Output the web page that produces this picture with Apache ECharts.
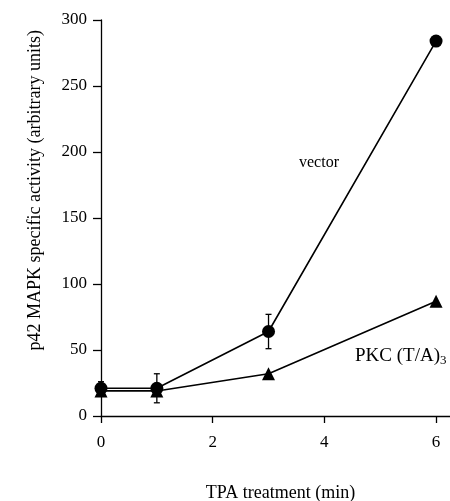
<!DOCTYPE html>
<html><head><meta charset="utf-8">
<script src="https://cdn.jsdelivr.net/npm/echarts@6/dist/echarts.min.js"></script>
<style>html,body{margin:0;padding:0;background:#fff}#c{width:450px;height:501px}</style>
</head><body><div id="c"></div>
<script>
var times = [0, 1, 3, 6];
var vectorVals = [21, 21, 64, 284];
var vectorErr = [5, 11, 13, 0];
var pkcVals = [19, 19, 32, 87];
var pkcErr = [0, 0, 0, 0];
var xTicks = [0, 2, 4, 6];

var FONT = '"Liberation Serif", "DejaVu Serif", serif';
function pairs(xs, ys){ return xs.map(function(x,i){ return [x, ys[i]]; }); }
function errData(xs, ys, es){
  var out = [];
  xs.forEach(function(x,i){ if (es[i] > 0) out.push([x, ys[i]-es[i], ys[i]+es[i]]); });
  return out;
}
function renderErr(params, api){
  var x = api.value(0);
  var lo = api.coord([x, api.value(1)]);
  var hi = api.coord([x, api.value(2)]);
  var w = 3;
  var st = {stroke:'#000', lineWidth:1.3};
  return {type:'group', children:[
    {type:'line', shape:{x1:lo[0],y1:lo[1],x2:hi[0],y2:hi[1]}, style:st},
    {type:'line', shape:{x1:lo[0]-w,y1:lo[1],x2:lo[0]+w,y2:lo[1]}, style:st},
    {type:'line', shape:{x1:hi[0]-w,y1:hi[1],x2:hi[0]+w,y2:hi[1]}, style:st}
  ]};
}
var chart = echarts.init(document.getElementById('c'), null, {renderer:'canvas'});
chart.setOption({
  animation:false,
  backgroundColor:'#fff',
  grid:{left:101, top:20, right:0, bottom:85, containLabel:false, outerBoundsMode:'none'},
  xAxis:{
    type:'value', min:0, max:6.25,
    name:'TPA treatment (min)', nameLocation:'middle', nameGap:68, nameTextStyle:{fontFamily:FONT, fontSize:18, color:'#000', padding:[0,0,0,10]},
    axisLine:{lineStyle:{color:'#000', width:1.3}},
    axisTick:{show:true, inside:false, length:7, lineStyle:{color:'#000', width:1.3}, customValues:xTicks},
    axisLabel:{fontFamily:FONT, fontSize:17, color:'#000', margin:18, customValues:xTicks},
    splitLine:{show:false}
  },
  yAxis:{
    type:'value', min:0, max:300, interval:50,
    axisLine:{show:true, lineStyle:{color:'#000', width:1.3}},
    axisTick:{show:true, inside:false, length:8, lineStyle:{color:'#000', width:1.3}},
    axisLabel:{fontFamily:FONT, fontSize:17, color:'#000', margin:14},
    splitLine:{show:false}
  },
  series:[
    {type:'custom', renderItem:renderErr, data:errData(times, vectorVals, vectorErr), z:1},
    {type:'line', data:pairs(times, pkcVals), symbol:'triangle', symbolSize:13,
     lineStyle:{color:'#000', width:1.6}, itemStyle:{color:'#000'}, z:2},
    {type:'line', data:pairs(times, vectorVals), symbol:'circle', symbolSize:13,
     lineStyle:{color:'#000', width:1.6}, itemStyle:{color:'#000'}, z:3}
  ],
  graphic:[
    {type:'text', left:26, top:30, rotation:Math.PI/2,
     style:{text:'p42 MAPK specific activity (arbitrary units)', font:'18px ' + FONT, fill:'#000'}},
    {type:'text', left:299, top:155, style:{text:'vector', font:'16px ' + FONT, fill:'#000'}},
    {type:'text', left:355, top:347, style:{
      text:'{a|PKC (T/A)}{s|3}', rich:{a:{fontFamily:FONT, fontSize:19, color:'#000'}, s:{fontFamily:FONT, fontSize:13, color:'#000', padding:[8,0,0,0]}}}}
  ]
});
</script></body></html>
